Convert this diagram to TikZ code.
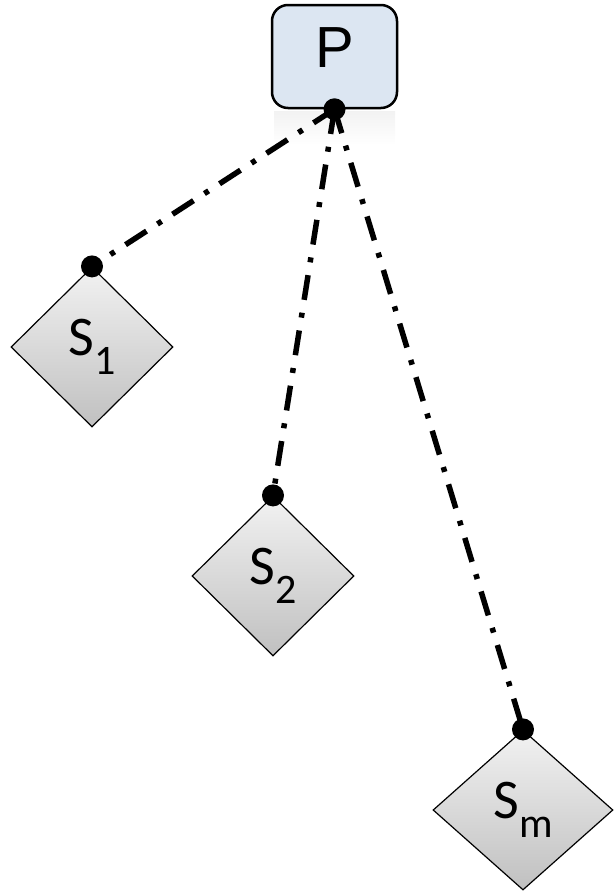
\documentclass[tikz,border=0pt]{standalone}
\usepackage{fontspec}
\newfontfamily\capfont{Liberation Sans}
\newfontfamily\subfont{Carlito}
\usetikzlibrary{shapes.geometric}
\definecolor{boxblue}{RGB}{220,230,242}
\definecolor{graytop}{RGB}{242,242,242}
\definecolor{graybot}{RGB}{192,192,192}
\newcommand{\slabel}[1]{\fontsize{56}{58}\selectfont S\raisebox{-19pt}{\fontsize{42}{44}\selectfont #1}}

\begin{document}
\begin{tikzpicture}[x=1pt,y=-1pt,
  pbox/.style={draw,line width=2.5pt,rounded corners=16pt,fill=boxblue,
    minimum width=125pt,minimum height=103pt,inner sep=0pt,text depth=18pt,
    font=\capfont\fontsize{58}{60}\selectfont},
  sbox/.style={diamond,draw,line width=1.2pt,top color=graytop,bottom color=graybot,
    minimum width=162pt,minimum height=160pt,inner sep=0pt,font=\subfont},
  link/.style={line width=5.5pt,dash pattern=on 25pt off 13pt on 5pt off 13pt},
  knob/.style={circle,fill=black,inner sep=0pt,minimum size=22pt}]
  \useasboundingbox (0,0) rectangle (613,894);
  % faint reflection under P
  \shade[top color=black!5,bottom color=white] (274,111) rectangle (395,145);
  \node[pbox] (p) at (334.5,56.5) {P};
  \node[sbox] (s1) at (92,347) {\slabel{1}};
  \node[sbox] (s2) at (273,576) {\slabel{2}};
  \node[sbox,minimum width=180pt] (sm) at (523,810) {\slabel{m}};
  \draw[link] (p.south) -- (s1.north);
  \draw[link] (p.south) -- (s2.north);
  \draw[link] (p.south) -- (sm.north);
  \node[knob] (kp) at (p.south) {};
  \node[knob] (k1) at (s1.north) {};
  \node[knob] (k2) at (s2.north) {};
  \node[knob] (km) at (sm.north) {};
\end{tikzpicture}
\end{document}
